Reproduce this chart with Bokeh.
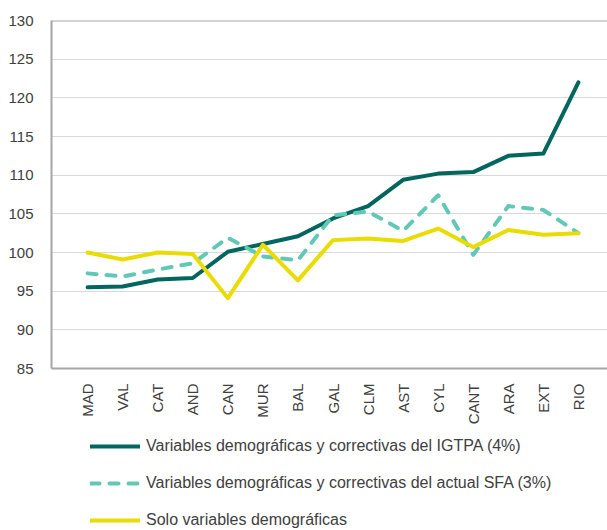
from bokeh.plotting import figure
from bokeh.models import Range1d, FixedTicker, Legend, LegendItem, Span, ColumnDataSource
from bokeh.layouts import column
from bokeh.embed import file_html
from bokeh.resources import INLINE
import math

regions = ["MAD", "VAL", "CAT", "AND", "CAN", "MUR", "BAL", "GAL", "CLM", "AST",
           "CYL", "CANT", "ARA", "EXT", "RIO"]
igtpa = [95.5, 95.6, 96.5, 96.7, 100.1, 101.1, 102.1, 104.4, 106.0, 109.4,
         110.2, 110.4, 112.5, 112.8, 122.0]
sfa = [97.3, 96.9, 97.8, 98.6, 101.9, 99.5, 99.0, 104.8, 105.3, 102.8,
       107.4, 99.7, 106.0, 105.5, 102.5]
demo = [100.0, 99.1, 100.0, 99.8, 94.1, 101.0, 96.4, 101.6, 101.8, 101.5,
        103.1, 100.7, 102.9, 102.3, 102.5]
y_ticks = [85, 90, 95, 100, 105, 110, 115, 120, 125, 130]
labels = ["Variables demográficas y correctivas del IGTPA (4%)",
          "Variables demográficas y correctivas del actual SFA (3%)",
          "Solo variables demográficas"]

idx = list(range(len(regions)))
src = ColumnDataSource(dict(x=idx, igtpa=igtpa, sfa=sfa, demo=demo))

FONT = "Liberation Sans"
TXT = "#404040"
styles = [dict(line_color="#00665e", line_width=4, line_join="round", line_cap="round"),
          dict(line_color="#62c8b6", line_width=4, line_dash="9 10", line_join="round", line_cap="round"),
          dict(line_color="#e8dc00", line_width=4, line_join="round", line_cap="round")]

p = figure(frame_width=556, frame_height=348, output_backend="svg", toolbar_location=None,
           x_range=Range1d(-1.03, 14.83), y_range=Range1d(85, 130),
           min_border_left=51, min_border_right=0, min_border_top=20,
           min_border_bottom=60)
p.outline_line_color = None
p.background_fill_color = "white"

p.xgrid.grid_line_color = None
p.ygrid.grid_line_color = "#d9d9d9"
p.ygrid.grid_line_width = 1
p.yaxis.ticker = FixedTicker(ticks=y_ticks)
p.xaxis.ticker = FixedTicker(ticks=idx)
p.xaxis.major_label_overrides = {i: r for i, r in enumerate(regions)}
p.xaxis.major_label_orientation = math.pi / 2

for ax in (p.xaxis[0], p.yaxis[0]):
    ax.axis_line_color = "#a6a6a6"
    ax.axis_line_width = 2
    ax.major_tick_line_color = None
    ax.minor_tick_line_color = None
    ax.major_label_text_font = FONT
    ax.major_label_text_font_size = "15px"
    ax.major_label_text_color = TXT
p.yaxis.major_label_standoff = 12
p.xaxis.major_label_standoff = 9

p.add_layout(Span(location=130, dimension="width", line_color="#a6a6a6", line_width=2))

for col, st in zip(["igtpa", "sfa", "demo"], styles):
    p.line("x", col, source=src, **st)

# legend panel (separate figure below the chart)
lf = figure(width=607, height=102, output_backend="svg", toolbar_location=None,
            x_axis_location=None, y_axis_location=None,
            x_range=Range1d(0, 1), y_range=Range1d(0, 1),
            min_border_left=0, min_border_right=0, min_border_top=0, min_border_bottom=0)
lf.outline_line_color = None
lf.xgrid.grid_line_color = None
lf.ygrid.grid_line_color = None
placeholder = ColumnDataSource(dict(x=[float("nan")], y=[float("nan")]))
items = []
for lab, st in zip(labels, styles):
    r = lf.line("x", "y", source=placeholder, **st)
    items.append(LegendItem(label=lab, renderers=[r]))

legend = Legend(items=items, location=(39, 1), orientation="vertical")
legend.border_line_color = None
legend.background_fill_alpha = 0
legend.margin = 0
legend.padding = 0
legend.glyph_width = 50
legend.glyph_height = 16
legend.label_height = 16
legend.spacing = 19
legend.label_standoff = 6
legend.label_text_font = FONT
legend.label_text_font_size = "16px"
legend.label_text_color = TXT
lf.add_layout(legend, "center")

layout = column(p, lf)
open("out.html", "w").write(file_html(layout, INLINE))
